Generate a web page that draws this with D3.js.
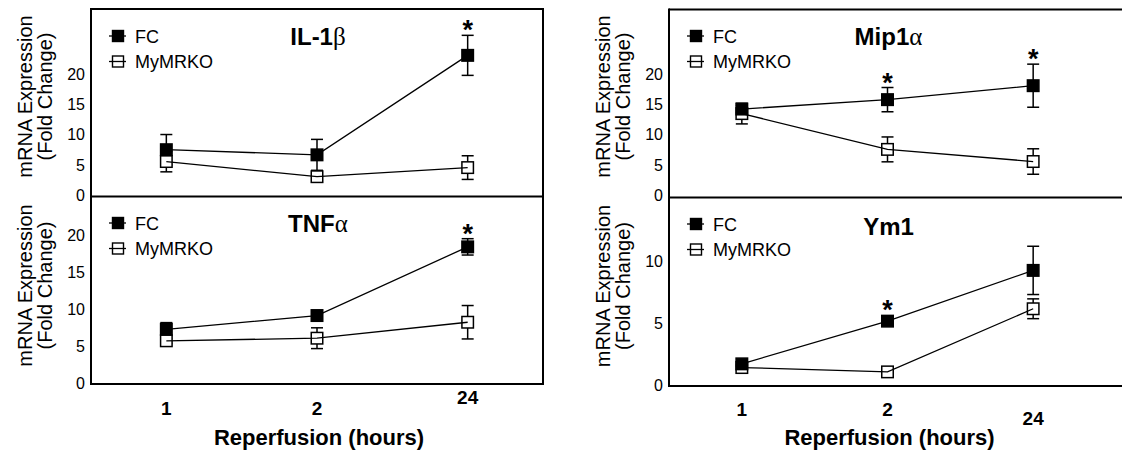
<!DOCTYPE html>
<html>
<head>
<meta charset="utf-8">
<script src="https://cdn.jsdelivr.net/npm/d3@7/dist/d3.min.js"></script>
<style>
  html, body { margin: 0; padding: 0; background: #fff; }
  svg { display: block; }
  text { font-family: "Liberation Sans", Arial, sans-serif; fill: #000; }
</style>
</head>
<body>
<svg id="chart" width="1122" height="454"></svg>
<script>
// ---------- data ----------
const hours = ["1", "2", "24"];
const seriesNames = ["FC", "MyMRKO"];

const il1bFC = [7.55, 6.7, 23.1];
const il1bFCErr = [2.5, 2.55, 3.3];
const il1bKO = [5.6, 3.1, 4.6];
const il1bKOErr = [1.7, 0.9, 1.95];
const il1bStar = [false, false, true];

const tnfFC = [7.3, 9.15, 18.4];
const tnfFCErr = [0.9, 0.25, 1.1];
const tnfKO = [5.75, 6.1, 8.25];
const tnfKOErr = [0.35, 1.4, 2.25];
const tnfStar = [false, false, true];

const mipFC = [14.25, 15.8, 18.1];
const mipFCErr = [0.6, 2.0, 3.55];
const mipKO = [13.5, 7.6, 5.6];
const mipKOErr = [1.7, 2.05, 2.1];
const mipStar = [false, true, true];

const ym1FC = [1.75, 5.2, 9.3];
const ym1FCErr = [0.2, 0.2, 1.95];
const ym1KO = [1.45, 1.1, 6.2];
const ym1KOErr = [0.2, 0.2, 0.8];
const ym1Star = [false, true, false];

const ticksA = [0, 5, 10, 15, 20];
const ticksB = [0, 5, 10];

const xTitle = "Reperfusion (hours)";
const yTitle1 = "mRNA Expression";
const yTitle2 = "(Fold Change)";

// ---------- layout ----------
const svg = d3.select("#chart");

const columns = {
  left:  { x0: 91,  xEnd: 543, labelBase: 415, lastLabelBase: 404, titleBase: 445 },
  right: { x0: 669, xEnd: 1106, labelBase: 416, lastLabelBase: 425, titleBase: 445 }
};
Object.values(columns).forEach(c => {
  c.x = d3.scalePoint().domain(hours).range([c.x0, c.xEnd]).padding(0.5);
});

const panels = [
  { col: "left",  top: 9,   bottom: 195.5, yMax: 30.74, ticks: ticksA, title: ["IL-1", "β"],
    fc: il1bFC, fcErr: il1bFCErr, ko: il1bKO, koErr: il1bKOErr, star: il1bStar,
    titleBase: 45, yTitleMid: 96.5 },
  { col: "left",  top: 196, bottom: 383.5, yMax: 25.25, ticks: ticksA, title: ["TNF", "α"],
    fc: tnfFC, fcErr: tnfFCErr, ko: tnfKO, koErr: tnfKOErr, star: tnfStar,
    titleBase: 232, yTitleMid: 285.5 },
  { col: "right", top: 9,   bottom: 195.5, yMax: 30.74, ticks: ticksA, title: ["Mip1", "α"],
    fc: mipFC, fcErr: mipFCErr, ko: mipKO, koErr: mipKOErr, star: mipStar,
    titleBase: 45, yTitleMid: 96.5 },
  { col: "right", top: 197, bottom: 385.5, yMax: 15.23, ticks: ticksB, title: ["Ym1", ""],
    fc: ym1FC, fcErr: ym1FCErr, ko: ym1KO, koErr: ym1KOErr, star: ym1Star,
    titleBase: 235, yTitleMid: 286 }
];

const SQ = 12.5;     // marker size
const CAP = 6;       // half cap width

panels.forEach(p => {
  const c = columns[p.col];
  const x = c.x;
  const y = d3.scaleLinear().domain([0, p.yMax]).range([p.bottom, p.top]);
  const g = svg.append("g");

  // y axis labels
  const axis = d3.axisLeft(y).tickValues(p.ticks).tickSize(0).tickPadding(6).tickFormat(d3.format("d"));
  const ax = g.append("g").attr("transform", `translate(${c.x0},0)`).call(axis);
  ax.select(".domain").remove();
  ax.selectAll("text").style("font-family", '"Liberation Sans", Arial, sans-serif')
    .style("font-size", "16px").attr("fill", "#000");

  // y title
  const ty = g.append("text")
    .attr("transform", `translate(${c.x0 - 59},${p.yTitleMid}) rotate(-90)`)
    .attr("text-anchor", "middle").style("font-size", "20px");
  ty.append("tspan").attr("x", 0).attr("y", 0).text(yTitle1);
  ty.append("tspan").attr("x", 0).attr("y", 20).text(yTitle2);

  // panel title
  const tt = g.append("text").attr("x", x(hours[1]) + 1).attr("y", p.titleBase)
    .attr("text-anchor", "middle").style("font-size", "24px").style("font-weight", "bold");
  tt.append("tspan").text(p.title[0]);
  if (p.title[1]) tt.append("tspan")
    .style("font-family", '"Liberation Serif", "DejaVu Serif", serif')
    .style("font-weight", "normal").style("font-size", "25px").text(p.title[1]);

  // legend
  const lx = c.x0 + 27;
  [0, 1].forEach(i => {
    const ly = p.top + 27 + i * 25.5;
    g.append("line").attr("x1", lx - 9).attr("x2", lx + 8).attr("y1", ly).attr("y2", ly)
      .attr("stroke", "#000").attr("stroke-width", 1.3);
    g.append("rect").attr("x", lx - 5.5).attr("y", ly - 5.5).attr("width", 11).attr("height", 11)
      .attr("fill", i === 0 ? "#000" : "none").attr("stroke", "#000").attr("stroke-width", 1.4);
    g.append("text").attr("x", lx + 17).attr("y", ly + 6.5).style("font-size", "18px").text(seriesNames[i]);
  });

  const series = [
    { v: p.ko, e: p.koErr, fill: "#fff" },
    { v: p.fc, e: p.fcErr, fill: "#000" }
  ];

  series.forEach(s => {
    hours.forEach((h, i) => {
      const cx = x(h), y1 = y(s.v[i] + s.e[i]), y2 = y(s.v[i] - s.e[i]);
      g.append("line").attr("x1", cx).attr("x2", cx).attr("y1", y1).attr("y2", y2)
        .attr("stroke", "#000").attr("stroke-width", 1.5);
      [y1, y2].forEach(yy => g.append("line").attr("x1", cx - CAP).attr("x2", cx + CAP)
        .attr("y1", yy).attr("y2", yy).attr("stroke", "#000").attr("stroke-width", 1.5));
    });
  });
  series.forEach(s => {
    g.selectAll(null).data(hours).enter().append("rect")
      .attr("x", h => x(h) - SQ / 2 + 0.5).attr("y", (h, i) => y(s.v[i]) - SQ / 2 + 0.5)
      .attr("width", SQ - 1).attr("height", SQ - 1)
      .attr("fill", s.fill).attr("stroke", "#000").attr("stroke-width", 1.5);
  });
  series.forEach(s => {
    const line = d3.line().x(h => x(h)).y((h, i) => y(s.v[i]));
    g.append("path").datum(hours).attr("d", line).attr("fill", "none")
      .attr("stroke", "#000").attr("stroke-width", 1.3);
  });

  // significance stars
  hours.forEach((h, i) => {
    if (!p.star[i]) return;
    const top = Math.min(y(p.fc[i] + p.fcErr[i]), y(p.fc[i]) - SQ / 2);
    g.append("text").attr("x", x(h)).attr("y", top + 4).attr("text-anchor", "middle")
      .style("font-size", "27px").style("font-weight", "bold").text("*");
  });
});

// frames
const fr = svg.append("g").attr("stroke", "#000").attr("stroke-width", 2).attr("fill", "none");
fr.append("rect").attr("x", 91).attr("y", 9).attr("width", 452).attr("height", 375);
fr.append("line").attr("x1", 91).attr("x2", 543).attr("y1", 196.5).attr("y2", 196.5);
fr.append("line").attr("x1", 669).attr("x2", 1122).attr("y1", 9.5).attr("y2", 9.5);
fr.append("line").attr("x1", 669).attr("x2", 669).attr("y1", 8.5).attr("y2", 387);
fr.append("line").attr("x1", 669).attr("x2", 1122).attr("y1", 197.5).attr("y2", 197.5);
fr.append("line").attr("x1", 669).attr("x2", 1122).attr("y1", 386).attr("y2", 386);

// x labels and titles
Object.values(columns).forEach(c => {
  hours.forEach((h, i) => {
    svg.append("text").attr("x", c.x(h))
      .attr("y", i === hours.length - 1 ? c.lastLabelBase : c.labelBase)
      .attr("text-anchor", "middle").style("font-size", "19px").style("font-weight", "bold").text(h);
  });
  svg.append("text").attr("x", c.x(hours[1]) + 2).attr("y", c.titleBase)
    .attr("text-anchor", "middle").style("font-size", "22px").style("font-weight", "bold").text(xTitle);
});
</script>
</body>
</html>
